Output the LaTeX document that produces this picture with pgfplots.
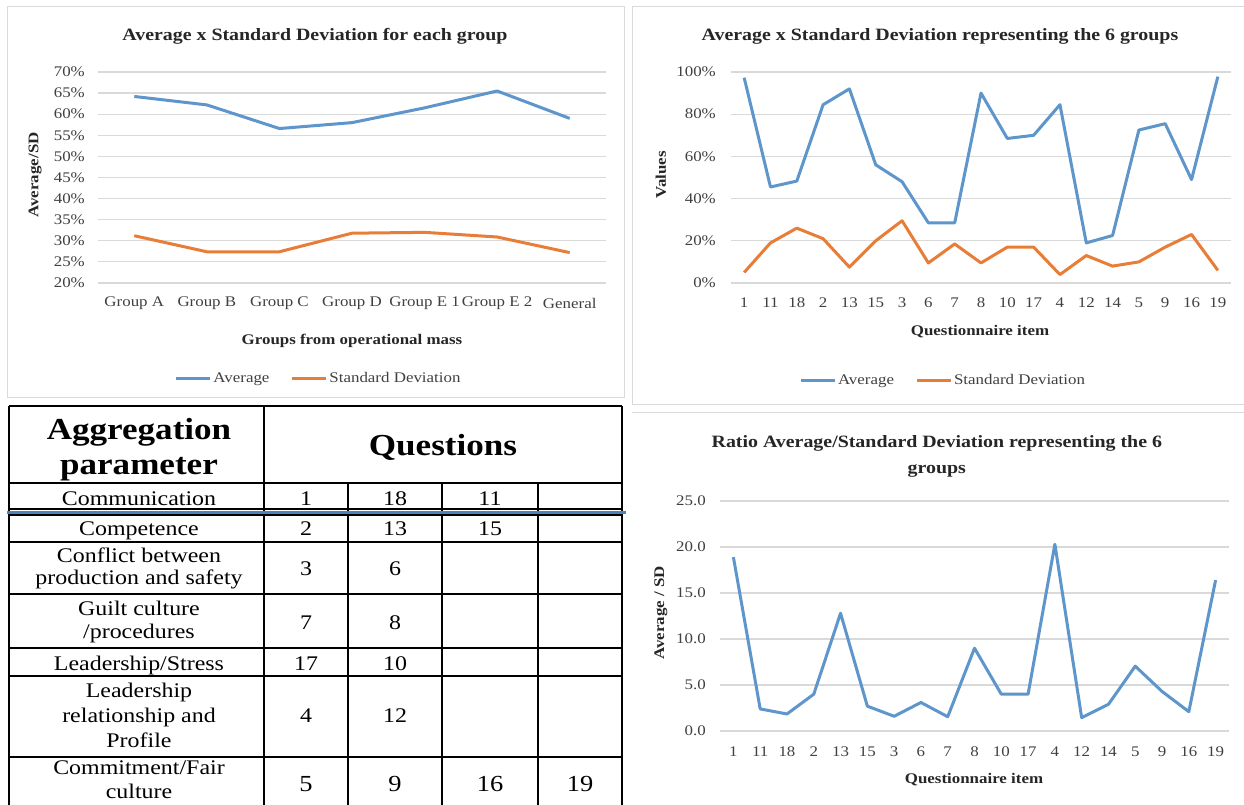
\documentclass[border=0pt]{standalone}
\usepackage{fontspec}
\setmainfont[FakeStretch=1.15]{Liberation Serif}
\usepackage{pgfplots}
\pgfplotsset{compat=1.18}
\definecolor{xblue}{RGB}{94,150,204}
\definecolor{xorange}{RGB}{232,125,55}
\definecolor{gridc}{RGB}{217,217,217}
\definecolor{tickc}{RGB}{64,64,64}
\definecolor{tblue}{RGB}{79,129,189}
\newcommand{\tabfont}{\fontsize{20.8}{26}\selectfont}
\newcommand{\hdfont}{\bfseries\fontsize{30.5}{35}\selectfont}
\pgfplotsset{
  excel/.style={
    scale only axis,
    anchor=south west,
    axis line style={draw=none},
    major tick length=0pt,
    ymajorgrids,
    grid style={gridc, line width=1.2pt},
    tick label style={font=\fontsize{14.7}{16}\selectfont, text=tickc, inner sep=0pt},
    /pgf/number format/assume math mode=true,
    label style={font=\bfseries\fontsize{14.7}{16}\selectfont, text=black!85},
    title style={font=\bfseries\fontsize{17.3}{26}\selectfont, text=black!85, anchor=center, align=center},
    every axis plot/.append style={line width=3pt, line join=round},
    xticklabel style={anchor=center},
    yticklabel style={anchor=east},
    legend style={draw=none, fill=none, font=\fontsize{14.7}{16}\selectfont, text=tickc,
      anchor=center, column sep=0pt, nodes={inner xsep=1.5pt, inner ysep=1pt},
      /tikz/every even column/.append style={column sep=20pt}},
    legend columns=2,
    legend image code/.code={\draw (0pt,0pt) -- (34pt,0pt);},
  }
}
\begin{document}
\begin{tikzpicture}
\useasboundingbox (0pt,0pt) rectangle (1244pt,805pt);
\fill[white] (0pt,0pt) rectangle (1244pt,805pt);
\clip (0pt,0pt) rectangle (1244pt,805pt);
% panel frames
\draw[gridc, line width=1pt] (7pt,407pt) rectangle (624pt,798pt);
\draw[gridc, line width=1pt] (632pt,400pt) rectangle (1250pt,798pt);
\draw[gridc, line width=1pt] (632pt,392pt) -- (1250pt,392pt);

% Panel 1
\begin{axis}[excel, at={(98pt,522pt)}, width=508pt, height=211pt,
  xmin=-0.5, xmax=6.5, ymin=20, ymax=70, ytick={20,25,...,70},
  xtick={0,...,6},
  xticklabels={Group A, Group B, Group C, Group D, Group E 1, Group E 2, General},
  yticklabel={\pgfmathprintnumber{\tick}\%},
  xticklabel style={yshift=-20pt},
  yticklabel style={xshift=-13pt},
  title={Average x Standard Deviation for each group},
  title style={at={(axis description cs:0.427,1.14)}},
  xlabel={Groups from operational mass},
  xlabel style={at={(axis description cs:0.5,-0.275)}, anchor=center},
  ylabel={Average/SD},
  ylabel style={at={(axis description cs:-0.124,0.512)}, anchor=center},
  legend style={at={(axis description cs:0.434,-0.452)}},
]
\addplot[xblue] coordinates {(0,64.2)(1,62.2)(2,56.6)(3,58.0)(4,61.5)(5,65.5)(6,59.0)};
\addplot[xorange] coordinates {(0,31.2)(1,27.4)(2,27.4)(3,31.8)(4,32.0)(5,30.9)(6,27.2)};
\legend{Average, Standard Deviation}
\end{axis}

% Panel 2
\begin{axis}[excel, at={(731pt,522pt)}, width=500pt, height=211pt,
  xmin=-0.5, xmax=18.5, ymin=0, ymax=100, ytick={0,20,...,100},
  xtick={0,...,18},
  xticklabels={1,11,18,2,13,15,3,6,7,8,10,17,4,12,14,5,9,16,19},
  yticklabel={\pgfmathprintnumber{\tick}\%},
  xticklabel style={yshift=-20pt},
  yticklabel style={xshift=-15pt},
  title={Average x Standard Deviation representing the 6 groups},
  title style={at={(axis description cs:0.418,1.14)}},
  xlabel={Questionnaire item},
  xlabel style={at={(axis description cs:0.498,-0.228)}, anchor=center},
  ylabel={Values},
  ylabel style={at={(axis description cs:-0.14,0.512)}, anchor=center},
  legend style={at={(axis description cs:0.424,-0.462)}},
]
\addplot[xblue] coordinates {(0,97.3)(1,45.5)(2,48.3)(3,84.5)(4,92.0)(5,56.0)(6,48.0)(7,28.5)(8,28.5)(9,90.0)(10,68.5)(11,70.0)(12,84.5)(13,19.0)(14,22.5)(15,72.5)(16,75.5)(17,49.0)(18,97.8)};
\addplot[xorange] coordinates {(0,5.0)(1,19.0)(2,26.0)(3,21.0)(4,7.5)(5,20.0)(6,29.5)(7,9.5)(8,18.5)(9,9.5)(10,17.0)(11,17.0)(12,4.0)(13,13.0)(14,8.0)(15,10.0)(16,17.0)(17,23.0)(18,6.0)};
\legend{Average, Standard Deviation}
\end{axis}

% Panel 3
\begin{axis}[excel, at={(720pt,74pt)}, width=509pt, height=230pt,
  xmin=-0.5, xmax=18.5, ymin=0, ymax=25, ytick={0,5,...,25},
  xtick={0,...,18},
  xticklabels={1,11,18,2,13,15,3,6,7,8,10,17,4,12,14,5,9,16,19},
  yticklabel={\pgfmathprintnumber[fixed,fixed zerofill,precision=1]{\tick}},
  xticklabel style={yshift=-21pt},
  yticklabel style={xshift=-14pt},
  title={Ratio Average/Standard Deviation representing the 6\\groups},
  title style={at={(axis description cs:0.426,1.168)}},
  xlabel={Questionnaire item},
  xlabel style={at={(axis description cs:0.499,-0.212)}, anchor=center},
  ylabel={Average / SD},
  ylabel style={at={(axis description cs:-0.116,0.513)}, anchor=center},
]
\addplot[xblue] coordinates {(0,18.9)(1,2.4)(2,1.85)(3,4.0)(4,12.8)(5,2.7)(6,1.6)(7,3.1)(8,1.55)(9,9.0)(10,4.0)(11,4.0)(12,20.3)(13,1.45)(14,2.9)(15,7.05)(16,4.3)(17,2.1)(18,16.4)};
\end{axis}

% Table
\begin{scope}[line width=1.3pt, black]
\draw (9pt,399pt) -- (622pt,399pt);
\foreach \yy in {322,296,290,263,211,157,129,48} {\draw (9pt,\yy pt) -- (622pt,\yy pt);}
\foreach \xx in {9,264,622} {\draw (\xx pt,399pt) -- (\xx pt,-5pt);}
\foreach \xx in {348,442,538} {\draw (\xx pt,322pt) -- (\xx pt,-5pt);}
\end{scope}
\draw[tblue, line width=3pt] (7pt,292.5pt) -- (626pt,292.5pt);
\node[anchor=base, font=\hdfont, inner sep=0pt] at (139pt,365pt) {Aggregation};
\node[anchor=base, font=\hdfont, inner sep=0pt] at (139pt,330pt) {parameter};
\node[anchor=base, font=\hdfont, inner sep=0pt] at (443pt,349pt) {Questions};
\begin{scope}[every node/.style={anchor=base, font=\tabfont, inner sep=0pt}]
\node at (139pt,299pt) {Communication};
\node at (139pt,269pt) {Competence};
\node at (139pt,242pt) {Conflict between};
\node at (139pt,220pt) {production and safety};
\node at (139pt,189pt) {Guilt culture};
\node at (139pt,166pt) {/procedures};
\node at (139pt,134pt) {Leadership/Stress};
\node at (139pt,107pt) {Leadership};
\node at (139pt,82pt) {relationship and};
\node at (139pt,57pt) {Profile};
\node at (139pt,30pt) {Commitment/Fair};
\node at (139pt,6pt) {culture};
\node at (306pt,299pt) {1}; \node at (395pt,299pt) {18}; \node at (490pt,299pt) {11};
\node at (306pt,269pt) {2}; \node at (395pt,269pt) {13}; \node at (490pt,269pt) {15};
\node at (306pt,229pt) {3}; \node at (395pt,229pt) {6};
\node at (306pt,175pt) {7}; \node at (395pt,175pt) {8};
\node at (306pt,134pt) {17}; \node at (395pt,134pt) {10};
\node at (306pt,82pt) {4}; \node at (395pt,82pt) {12};
\node[font=\fontsize{23}{26}\selectfont] at (306pt,13pt) {5};
\node[font=\fontsize{23}{26}\selectfont] at (395pt,13pt) {9};
\node[font=\fontsize{23}{26}\selectfont] at (490pt,13pt) {16};
\node[font=\fontsize{23}{26}\selectfont] at (580pt,13pt) {19};
\end{scope}
\end{tikzpicture}
\end{document}
